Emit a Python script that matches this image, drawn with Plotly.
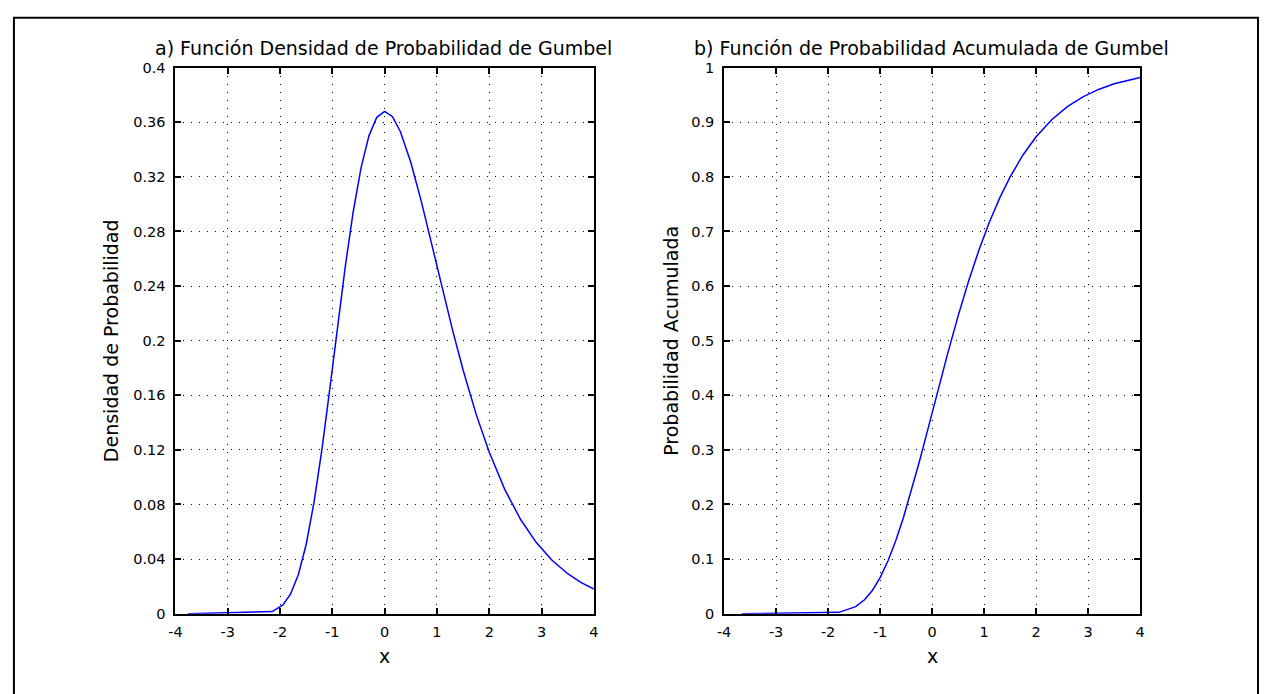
import plotly.graph_objects as go

# ---- data ----
x_pdf = [-3.76, -2.15, -1.95, -1.8, -1.65, -1.5, -1.35, -1.2, -1.05, -0.9, -0.75, -0.6,
         -0.45, -0.3, -0.15, 0.0, 0.15, 0.3, 0.5, 0.7, 0.9, 1.1, 1.3, 1.5, 1.75, 2.0,
         2.3, 2.6, 2.9, 3.2, 3.5, 3.75, 4.0]
y_pdf = [0.0, 0.0016, 0.0062, 0.0143, 0.0285, 0.0507, 0.0815, 0.1200, 0.1641, 0.2102,
         0.2549, 0.2946, 0.3268, 0.3500, 0.3636, 0.3679, 0.3640, 0.3532, 0.3307, 0.3022,
         0.2707, 0.2386, 0.2075, 0.1785, 0.1460, 0.1182, 0.0907, 0.0690, 0.0521, 0.0391,
         0.0293, 0.0230, 0.0180]

x_cdf = [-3.66, -1.79, -1.47, -1.3, -1.15, -1.0, -0.85, -0.7, -0.55, -0.4, -0.25, -0.1,
         0.0, 0.15, 0.3, 0.5, 0.7, 0.9, 1.1, 1.3, 1.5, 1.75, 2.0, 2.3, 2.6, 2.9, 3.2,
         3.5, 3.75, 4.0]
y_cdf = [0.0, 0.0025, 0.0129, 0.0255, 0.0425, 0.0660, 0.0964, 0.1335, 0.1767, 0.2250,
         0.2769, 0.3312, 0.3679, 0.4229, 0.4767, 0.5453, 0.6086, 0.6659, 0.7169, 0.7615,
         0.8000, 0.8405, 0.8734, 0.9046, 0.9284, 0.9465, 0.9600, 0.9703, 0.9768, 0.9819]

x_ticks = [-4, -3, -2, -1, 0, 1, 2, 3, 4]
x_tick_labels = ["-4", "-3", "-2", "-1", "0", "1", "2", "3", "4"]
y1_ticks = [0, 0.04, 0.08, 0.12, 0.16, 0.2, 0.24, 0.28, 0.32, 0.36, 0.4]
y1_tick_labels = ["0", "0.04", "0.08", "0.12", "0.16", "0.2", "0.24", "0.28", "0.32", "0.36", "0.4"]
y2_ticks = [0, 0.1, 0.2, 0.3, 0.4, 0.5, 0.6, 0.7, 0.8, 0.9, 1.0]
y2_tick_labels = ["0", "0.1", "0.2", "0.3", "0.4", "0.5", "0.6", "0.7", "0.8", "0.9", "1"]

title_a = "a) Función Densidad de Probabilidad de Gumbel"
title_b = "b) Función de Probabilidad Acumulada de Gumbel"
ylabel_a = "Densidad de Probabilidad"
ylabel_b = "Probabilidad Acumulada"
xlabel = "x"

W, H = 1264, 694
FONT = "DejaVu Sans"

def px(xp):
    return xp / W

def py(yp):
    return (H - yp) / H

fig = go.Figure()
fig.add_trace(go.Scatter(x=x_pdf, y=y_pdf, mode="lines", line=dict(color="#0000ff", width=1.5),
                         xaxis="x", yaxis="y", showlegend=False, hoverinfo="skip"))
fig.add_trace(go.Scatter(x=x_cdf, y=y_cdf, mode="lines", line=dict(color="#0000ff", width=1.5),
                         xaxis="x2", yaxis="y2", showlegend=False, hoverinfo="skip"))

common_axis = dict(
    showline=True, linecolor="black", linewidth=2, mirror="allticks",
    ticks="inside", ticklen=6, tickwidth=2, tickcolor="black",
    showgrid=True, gridcolor="black", gridwidth=1, griddash="1px,7px",
    zeroline=False, tickfont=dict(family=FONT, size=14.5, color="black"),
)

dom_x1 = [px(170), px(592.5)]
dom_x2 = [px(724), px(1144)]
dom_y = [py(620), py(61)]

fig.update_layout(
    width=W, height=H,
    margin=dict(l=0, r=0, t=0, b=0),
    paper_bgcolor="white", plot_bgcolor="white",
    xaxis=dict(domain=dom_x1, range=[-4, 4], tickvals=x_ticks, ticktext=x_tick_labels,
               anchor="y", ticklabelstandoff=4, **common_axis),
    yaxis=dict(domain=dom_y, range=[0, 0.4], tickvals=y1_ticks, ticktext=y1_tick_labels,
               anchor="x", ticklabelstandoff=5, **common_axis),
    xaxis2=dict(domain=dom_x2, range=[-4, 4], tickvals=x_ticks, ticktext=x_tick_labels,
                anchor="y2", ticklabelstandoff=4, **common_axis),
    yaxis2=dict(domain=dom_y, range=[0, 1], tickvals=y2_ticks, ticktext=y2_tick_labels,
                anchor="x2", ticklabelstandoff=5, **common_axis),
)

ann_font = dict(family=FONT, size=19, color="black")
annotations = [
    dict(text=title_a, x=px(380), y=py(41), xref="paper", yref="paper", showarrow=False,
         xanchor="center", yanchor="middle", font=ann_font),
    dict(text=title_b, x=px(933), y=py(41), xref="paper", yref="paper", showarrow=False,
         xanchor="center", yanchor="middle", font=ann_font),
    dict(text=ylabel_a, x=px(105), y=py(341), xref="paper", yref="paper", showarrow=False,
         xanchor="center", yanchor="middle", textangle=-90, font=ann_font),
    dict(text=ylabel_b, x=px(670), y=py(341), xref="paper", yref="paper", showarrow=False,
         xanchor="center", yanchor="middle", textangle=-90, font=ann_font),
    dict(text=xlabel, x=px(381), y=py(663), xref="paper", yref="paper", showarrow=False,
         xanchor="center", yanchor="middle", font=ann_font),
    dict(text=xlabel, x=px(934), y=py(663), xref="paper", yref="paper", showarrow=False,
         xanchor="center", yanchor="middle", font=ann_font),
]
fig.update_layout(annotations=annotations)

# outer frame (left/top/right edges; bottom edge lies below the window)
fig.add_shape(type="rect", xref="paper", yref="paper",
              x0=px(7), x1=px(1263), y0=-0.05, y1=py(10),
              line=dict(color="black", width=2), fillcolor="rgba(0,0,0,0)")

fig.write_html("out.html")
